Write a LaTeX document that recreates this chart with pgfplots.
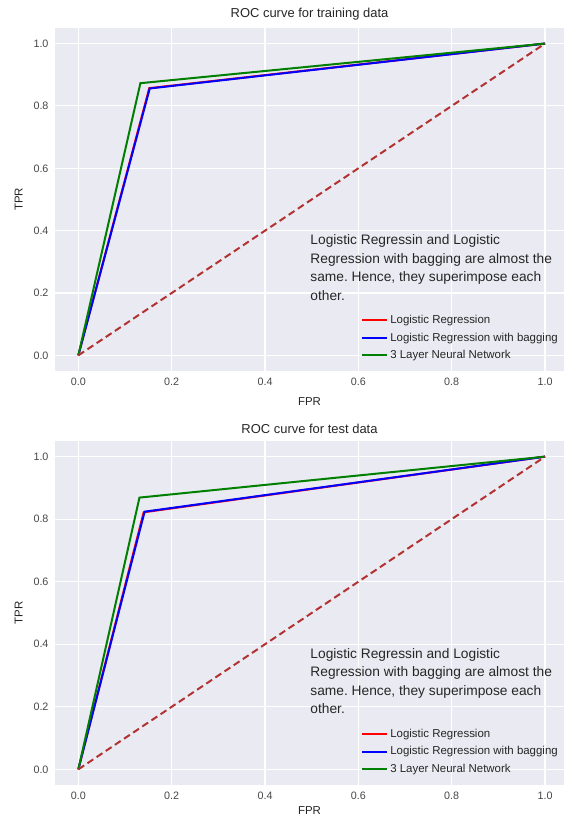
\documentclass[border=0pt]{standalone}
\usepackage{pgfplots}
\pgfplotsset{compat=1.18}
\usepackage{fontspec}
\setmainfont{Liberation Sans}
\frenchspacing
\definecolor{bg}{HTML}{EAEAF2}
\definecolor{txt}{HTML}{262626}
\definecolor{dashc}{RGB}{178,50,50}
\definecolor{lgreen}{RGB}{0,128,0}
\pgfplotsset{rocstyle/.style={
  width=509bp, height=343bp, scale only axis,
  xmin=-0.05, xmax=1.0407, ymin=-0.05, ymax=1.05,
  axis background/.style={fill=bg},
  axis line style={draw=none},
  major tick length=0pt,
  grid=major, grid style={white, line width=1.1bp},
  xtick={0,0.2,0.4,0.6,0.8,1}, ytick={0,0.2,0.4,0.6,0.8,1},
  xticklabels={0.0,0.2,0.4,0.6,0.8,1.0},
  yticklabels={0.0,0.2,0.4,0.6,0.8,1.0},
  tick label style={font=\fontsize{10.8}{12}\selectfont, text=txt!85},
  xticklabel style={yshift=-3bp},
  yticklabel style={xshift=-3bp},
  label style={font=\fontsize{11.5}{13}\selectfont, text=txt},
  xlabel={FPR}, ylabel={TPR},
  ylabel style={yshift=4bp},
  title style={font=\fontsize{13}{15}\selectfont, text=txt, yshift=-2bp},
  legend style={draw=none, fill=none, at={(0.998,0.174)}, anchor=north east,
    font=\fontsize{11.5}{13}\selectfont, text=txt, row sep=3.5bp},
  legend cell align=left,
  legend image code/.code={\draw[#1] (0bp,0bp) -- (25bp,0bp);},
  every axis plot/.append style={line width=2bp},
}}
\begin{document}
\begin{tikzpicture}[x=1bp,y=1bp]
\useasboundingbox (0,0) rectangle (564,820);
\begin{axis}[rocstyle, at={(55bp,449bp)}, anchor=south west,
  title={ROC curve for training data}, xlabel style={yshift=-6bp}]
\addplot[red, line width=2bp] coordinates {(0,0) (0.152,0.857) (1,1)};
\addlegendentry{Logistic Regression}
\addplot[blue, line width=2bp] coordinates {(0,0) (0.153,0.856) (1,1)};
\addlegendentry{Logistic Regression with bagging}
\addplot[lgreen, line width=2bp] coordinates {(0,0) (0.133,0.873) (1,1)};
\addlegendentry{3 Layer Neural Network}
\addplot[dashc, line width=2bp, dash pattern=on 7bp off 4bp, forget plot] coordinates {(0,0) (1,1)};
\node[anchor=north west, align=left, inner sep=0pt, font=\fontsize{13.8}{18.5}\selectfont, text=txt]
  at (axis cs:0.497,0.387) {Logistic Regressin and Logistic\\Regression with bagging are almost the\\same. Hence, they superimpose each\\other.};
\end{axis}
\begin{axis}[rocstyle, at={(55bp,35bp)}, anchor=south west, height=344bp,
  title={ROC curve for test data}, xlabel style={yshift=-1bp}]
\addplot[red, line width=2bp] coordinates {(0,0) (0.140,0.822) (1,1)};
\addlegendentry{Logistic Regression}
\addplot[blue, line width=2bp] coordinates {(0,0) (0.142,0.824) (1,1)};
\addlegendentry{Logistic Regression with bagging}
\addplot[lgreen, line width=2bp] coordinates {(0,0) (0.131,0.869) (1,1)};
\addlegendentry{3 Layer Neural Network}
\addplot[dashc, line width=2bp, dash pattern=on 7bp off 4bp, forget plot] coordinates {(0,0) (1,1)};
\node[anchor=north west, align=left, inner sep=0pt, font=\fontsize{13.8}{18.5}\selectfont, text=txt]
  at (axis cs:0.497,0.387) {Logistic Regressin and Logistic\\Regression with bagging are almost the\\same. Hence, they superimpose each\\other.};
\end{axis}
\end{tikzpicture}
\end{document}
